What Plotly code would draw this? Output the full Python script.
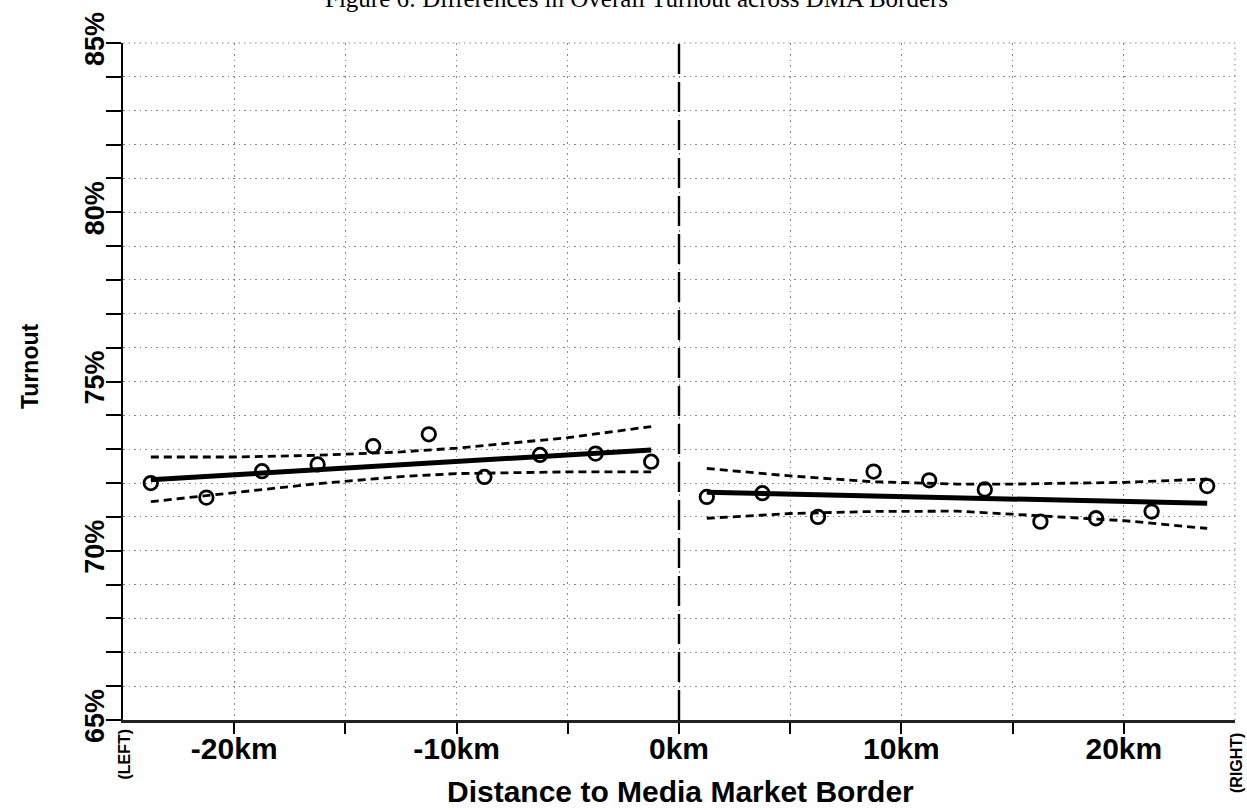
import plotly.graph_objects as go

# ---- data ----
left_x = [-23.75, -21.25, -18.75, -16.25, -13.75, -11.25, -8.75, -6.25, -3.75, -1.25]
left_y = [72.00, 71.57, 72.35, 72.55, 73.09, 73.44, 72.18, 72.83, 72.87, 72.63]
right_x = [1.25, 3.75, 6.25, 8.75, 11.25, 13.75, 16.25, 18.75, 21.25, 23.75]
right_y = [71.59, 71.70, 71.00, 72.34, 72.08, 71.81, 70.86, 70.96, 71.16, 71.91]

left_fit_x = [-23.75, -1.25]
left_fit_y = [72.10, 72.98]
right_fit_x = [1.25, 23.75]
right_fit_y = [71.73, 71.40]

left_ci_x = [-23.75, -20, -16.3, -13.8, -12.5, -10, -5, -1.25]
left_ci_hi = [72.77, 72.77, 72.82, 72.88, 72.92, 73.03, 73.34, 73.67]
left_ci_lo_x = [-23.75, -20, -16.3, -12.5, -10, -5, -1.25]
left_ci_lo = [71.45, 71.72, 71.98, 72.19, 72.28, 72.33, 72.33]

right_ci_x = [1.25, 5, 8.7, 12.5, 15, 20, 23.75]
right_ci_hi = [72.43, 72.21, 72.04, 71.97, 71.97, 72.02, 72.12]
right_ci_lo = [70.96, 71.10, 71.16, 71.17, 71.08, 70.89, 70.66]

x_tickvals = [-20, -15, -10, -5, 0, 5, 10, 15, 20]
x_ticktext = ["-20km", "", "-10km", "", "0km", "", "10km", "", "20km"]
y_tickvals = list(range(65, 86))
y_ticktext = [f"{v}%" if v % 5 == 0 else "" for v in y_tickvals]

title_text = "Figure 6: Differences in Overall Turnout across DMA Borders"

W, H = 1247, 810
ML, MR, MT, MB = 123, 12, 43, 90
PW, PH = W - ML - MR, H - MT - MB

def px_x(p):
    return (p - ML) / PW

def px_y(p):
    return (H - MB - p) / PH

fig = go.Figure()

# border line at 0km
fig.add_trace(go.Scatter(x=[0, 0], y=[65, 85], mode="lines",
                         line=dict(color="black", width=2.4, dash="30px,8px"),
                         hoverinfo="skip", showlegend=False))

for cx, hi in [(left_ci_x, left_ci_hi), (left_ci_lo_x, left_ci_lo),
               (right_ci_x, right_ci_hi), (right_ci_x, right_ci_lo)]:
    fig.add_trace(go.Scatter(x=cx, y=hi, mode="lines",
                             line=dict(color="black", width=2.8, dash="8px,5px"),
                             showlegend=False))

for fx, fy in [(left_fit_x, left_fit_y), (right_fit_x, right_fit_y)]:
    fig.add_trace(go.Scatter(x=fx, y=fy, mode="lines",
                             line=dict(color="black", width=5),
                             showlegend=False))

for sx, sy in [(left_x, left_y), (right_x, right_y)]:
    fig.add_trace(go.Scatter(x=sx, y=sy, mode="markers",
                             marker=dict(symbol="circle-open", size=13.5, color="black",
                                         line=dict(width=2.8, color="black")),
                             showlegend=False))

# top and right frame (dotted)
fig.add_shape(type="line", xref="paper", yref="paper", x0=0, x1=1, y0=1, y1=1,
              line=dict(color="#888", width=1, dash="1.5px,4px"), layer="below")
fig.add_shape(type="line", xref="paper", yref="paper", x0=1, x1=1, y0=0, y1=1,
              line=dict(color="#888", width=1, dash="1.5px,4px"), layer="below")

fig.update_layout(
    width=W, height=H,
    margin=dict(l=ML, r=MR, t=MT, b=MB),
    paper_bgcolor="white", plot_bgcolor="white",
    font=dict(family="Liberation Sans, Arial", color="black"),
    showlegend=False,
    xaxis=dict(range=[-25, 25], tickmode="array", tickvals=x_tickvals, ticktext=x_ticktext,
               ticks="outside", ticklen=11, tickwidth=2, tickcolor="black",
               showline=True, linecolor="#222", linewidth=2.5,
               showgrid=True, gridcolor="#888", gridwidth=1, griddash="1.5px,4px",
               zeroline=False,
               tickfont=dict(size=30, family="Liberation Sans, Arial", color="black", weight="bold"),
               ticklabelstandoff=-11),
    yaxis=dict(range=[65, 85], tickmode="array", tickvals=y_tickvals, ticktext=y_ticktext,
               ticks="outside", ticklen=15, tickwidth=2, tickcolor="black",
               showline=True, linecolor="black", linewidth=2,
               showgrid=True, gridcolor="#888", gridwidth=1, griddash="1.5px,4px",
               zeroline=False, tickangle=-90,
               tickfont=dict(size=27, family="Liberation Sans, Arial", color="black", weight="bold"),
               ticklabelstandoff=-9),
)

ann = [
    dict(text=title_text, x=px_x(636), y=px_y(14), xref="paper", yref="paper",
         xanchor="center", yanchor="bottom", showarrow=False,
         font=dict(family="Liberation Serif, Times New Roman", size=25, color="black")),
    dict(text="Turnout", x=px_x(30), y=px_y(367), xref="paper", yref="paper",
         xanchor="center", yanchor="middle", textangle=-90, showarrow=False,
         font=dict(size=23, color="black", weight="bold")),
    dict(text="Distance to Media Market Border", x=px_x(680), y=px_y(792),
         xref="paper", yref="paper", xanchor="center", yanchor="middle", showarrow=False,
         font=dict(size=30, color="black", weight="bold")),
    dict(text="(LEFT)", x=px_x(124), y=px_y(727), xref="paper", yref="paper",
         xanchor="center", yanchor="top", textangle=-90, showarrow=False,
         font=dict(size=16, color="black", weight="bold")),
    dict(text="(RIGHT)", x=px_x(1236), y=px_y(731), xref="paper", yref="paper",
         xanchor="center", yanchor="top", textangle=-90, showarrow=False,
         font=dict(size=16, color="black", weight="bold")),
]
fig.update_layout(annotations=ann)

fig.write_html("out.html", config={"displayModeBar": False},
               post_script="document.body.style.margin='0';document.body.style.overflow='hidden';")
